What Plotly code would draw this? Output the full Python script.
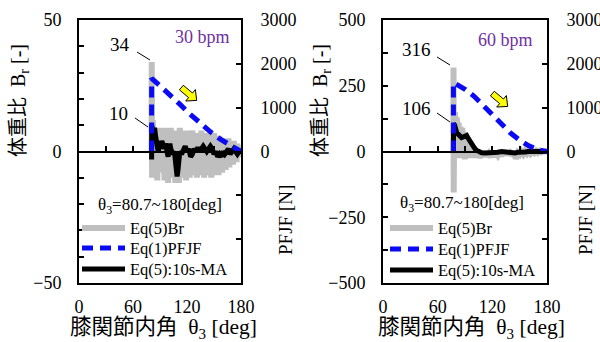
import math
import plotly.graph_objects as go

W, H = 600, 342

# ---------------- data ----------------
# Left panel: 30 bpm
br30_deg = [80.7, 80.8, 81.2, 82, 83, 84, 85, 86, 87, 88, 89, 90, 91, 92, 93, 94, 95, 96, 97, 98, 99,
            100, 101, 102, 103, 104, 105, 106, 107, 108, 109, 110, 111, 112, 113, 114, 115, 116, 117, 118, 119,
            120, 121, 122, 123, 124, 125, 126, 127, 128, 129, 130, 131, 132, 133, 134, 135, 136, 137, 138, 139,
            140, 141, 142, 143, 144, 145, 146, 147, 148, 149, 150, 151, 152, 153, 154, 155, 156, 157, 158, 159,
            160, 161, 162, 163, 164, 165, 166, 167, 168, 169, 170, 171, 172, 173, 174, 175, 176, 177, 178, 179, 180]
br30 = [0, 34, -10, 12, -9, 9, -5, 8, -11, 9, -4, 8, -8, 9, -6, 8, -11, 7, -3, 9, -12,
        8, -5, 9, -10, 6, -4, 8, -12, 7, -6, 8, -12, 9, -5, 8, -10, 7, -4, 8, -11,
        8, -6, 7, -10, 7, -3, 8, -9, 6, -5, 7, -10, 7, -4, 6, -9, 8, -5, 7, -10,
        6, -4, 7, -9, 6, -5, 7, -10, 5, -4, 7, -9, 6, -3, 5, -9, 6, -5, 5, -8,
        4, -3, 5, -7, 4, -3, 5, -6, 4, -3, 3, -5, 4, -2, 3, -4, 3, -2, 2, -2, 0]

ma30_deg = [80.7, 80.8, 82, 83, 84, 85, 86, 87, 88, 89, 90, 91, 92, 93, 94, 96, 98, 99, 100, 101, 102,
            104, 106, 107, 108, 109, 110, 111, 112, 114, 116, 118, 120, 122, 124, 126, 128, 130, 132, 134,
            136, 138, 140, 142, 144, 146, 148, 150, 152, 154, 156, 158, 160, 162, 164, 166, 168, 170, 172,
            174, 176, 178, 180]
ma30 = [-3, 10, 8, 5, 9, 6, 3, 4, 0, 2, 4, 2, 4, 3, 1, 3, 0, -2, 1, 3, 1,
        -1, 0, -4, -8, -9.5, -7, -2, 0, -1, 1, 2, 0, 1, -2, -1, 1, 0, 1.5, 0,
        1, 2, 1, 0, 1, 2, 1, -1, 0, -2, -1, -2, 0, -1, 0, 1, -1, 0, 1,
        0, -1, 0, 0]

pfjf30_deg = [80.7, 80.7, 90, 101, 112, 123, 134, 146, 157, 168, 176, 180]
pfjf30 = [0, 1670, 1500, 1300, 1080, 860, 660, 450, 280, 140, 50, 0]

# Right panel: 60 bpm
br60_deg = [77.3, 77.4, 77.6, 78, 79, 80, 81, 82, 83, 84, 85, 86, 87, 88, 89, 90, 91, 92, 93, 94, 95,
            96, 97, 98, 99, 100, 101, 102, 103, 104, 105, 106, 108, 110, 112, 114, 116, 118, 120, 122,
            124, 126, 128, 130, 132, 134, 136, 138, 140, 142, 144, 146, 148, 150, 152, 154, 156, 158,
            160, 162, 164, 166, 168, 170, 172, 174, 176, 178, 180]
br60 = [0, 319, -156, 40, 150, 20, 130, 10, 110, -25, 95, -10, 90, 20, 75, -30, 60, 0, 55, -25, 40,
        -20, 30, -15, 20, -25, 12, -20, 5, -22, 0, -25, -5, -20, 0, -18, -8, -22, -3, -20,
        -5, -15, -2, -18, 0, -12, 2, -14, -4, -10, 0, -28, -5, -12, 0, -10, 2, -8,
        2, -8, 0, -6, 2, -5, 2, -3, 1, -2, 0]

ma60_deg = [77.3, 77.4, 78, 78.6, 79, 80, 81, 82.7, 84.5, 86.3, 88, 90, 91.8, 93.5, 95.5, 97.5, 99.1,
            101, 103, 104.6, 108.3, 112, 115.6, 119, 123, 126, 130.3, 134, 137.6, 141, 144.9, 148,
            152.2, 156, 159.5, 163, 166.8, 170, 174, 180]
ma60 = [0, 106, 70, 100, 95, 80, 70, 65, 55, 53, 55, 57, 61, 50, 38, 28, 19,
        10, 4, 0, -5, -6, -6, -6, -5, -3, 0, -2, -1, -4, -6, -3,
        0, -2, 0, -1, 0, 1, 0, 0]

pfjf60_deg = [77.3, 77.3, 80, 90, 100, 110, 120, 130, 140, 150, 160, 170, 176, 180]
pfjf60 = [0, 1570, 1540, 1420, 1260, 1040, 820, 610, 420, 260, 130, 40, 5, 0]

# axis ticks
x_labels = [0, 60, 120, 180]
x_minor = [30, 60, 90, 120, 150]
br30_labels = [-50, 0, 50]
br30_minor = [-40, -30, -20, -10, 10, 20, 30, 40]
br60_labels = [-500, -250, 0, 250, 500]
br60_minor = [-375, -125, 125, 375]
pf_labels = [0, 1000, 2000, 3000]
pf_minor = [-2000, -1000]

legend_title = "θ<sub>3</sub>=80.7~180[deg]"
names = ["Eq(5)Br", "Eq(1)PFJF", "Eq(5):10s-MA"]

# ---------------- styles ----------------
SERIF = "Liberation Serif"
MIX = "Liberation Serif, Noto Sans CJK JP"
GREY = "#BFBFBF"
BLUE = "#0A0AF5"
DASH = "11px,7px"
tickfont = dict(family=SERIF, size=18, color="black")


def P(x, y):
    return x / W, 1 - y / H


Ydom = [1 - 283 / H, 1 - 20 / H]
XL = [79 / W, 241 / W]
XR = [383 / W, 547 / W]
zero_pos = (Ydom[0] + Ydom[1]) / 2

fig = go.Figure()
styles = [dict(color=GREY, width=6), dict(color=BLUE, width=5, dash=DASH), dict(color="black", width=5)]

for (bx, by, px_, py_, mx, my, xa, ya, ya2, xo) in [
    (br30_deg, br30, pfjf30_deg, pfjf30, ma30_deg, ma30, "x", "y", "y2", "x3"),
    (br60_deg, br60, pfjf60_deg, pfjf60, ma60_deg, ma60, "x2", "y3", "y4", "x4"),
]:
    fig.add_trace(go.Scatter(x=bx, y=by, mode="lines", line=styles[0], name=names[0],
                             xaxis=xa, yaxis=ya, showlegend=False))
    fig.add_trace(go.Scatter(x=px_, y=py_, mode="lines", line=styles[1], name=names[1],
                             xaxis=xa, yaxis=ya2, showlegend=False))
    fig.add_trace(go.Scatter(x=mx, y=my, mode="lines", line=styles[2], name=names[2],
                             xaxis=xa, yaxis=ya, showlegend=False))
    fig.add_trace(go.Scatter(x=[None], y=[None], xaxis=xo, yaxis=ya, showlegend=False,
                             hoverinfo="skip"))

common = dict(showgrid=False, zeroline=False, linecolor="black", linewidth=2, automargin=False,
              tickcolor="black", tickwidth=2, tickfont=tickfont)
minor_in = lambda vals: dict(tickvals=vals, ticks="inside", ticklen=5, tickwidth=2, tickcolor="black",
                             showgrid=False)

layout = dict(
    width=W, height=H, margin=dict(l=0, r=0, t=0, b=0, autoexpand=False),
    plot_bgcolor="white", paper_bgcolor="white", showlegend=False,
)
for i, (dom, ya, ya2, xo, brl, brm, brr) in enumerate([
    (XL, "y", "y2", "x3", br30_labels, br30_minor, [-50, 50]),
    (XR, "y3", "y4", "x4", br60_labels, br60_minor, [-500, 500]),
]):
    xname = "xaxis" if i == 0 else "xaxis2"
    xa = "x" if i == 0 else "x2"
    layout[xname] = dict(domain=dom, anchor=ya, range=[0, 180], tickvals=x_labels, ticks="",
                         showline=True, mirror=True, ticklabelstandoff=6, **common)
    layout["xaxis" + xo[1:]] = dict(overlaying=xa, anchor="free", position=zero_pos, range=[0, 180],
                                    tickvals=x_minor, ticks="inside", ticklen=5, showticklabels=False,
                                    showline=True, **{k: v for k, v in common.items() if k != "tickfont"})
    layout["yaxis" + ya[1:]] = dict(domain=Ydom, anchor=xa, range=brr, tickvals=brl, minor=minor_in(brm),
                                   ticks="inside", ticklen=5, showline=True, ticklabelstandoff=12, **common)
    layout["yaxis" + ya2[1:]] = dict(overlaying=ya, side="right", anchor=xa, range=[-3000, 3000],
                                    tickvals=pf_labels, minor=minor_in(pf_minor),
                                    ticks="inside", ticklen=5, showline=True, ticklabelstandoff=14, **common)
fig.update_layout(**layout)

ann = []
shapes = []


def text(x, y, t, size=18, angle=0, color="black", xanchor="center", family=SERIF):
    px, py = P(x, y)
    ann.append(dict(x=px, y=py, xref="paper", yref="paper", text=t, showarrow=False, textangle=angle,
                    xanchor=xanchor, yanchor="middle", font=dict(family=family, size=size, color=color)))


def seg(x0, y0, x1, y1, line):
    a, b = P(x0, y0)
    c, d = P(x1, y1)
    shapes.append(dict(type="line", xref="paper", yref="paper", x0=a, y0=b, x1=c, y1=d, line=line))


def arrow(cx, cy, ang=40, s=1.0):
    pts = [(-10, -3), (2, -3), (2, -7.5), (10, 0), (2, 7.5), (2, 3), (-10, 3)]
    ca, sa = math.cos(math.radians(ang)), math.sin(math.radians(ang))
    path = ""
    for k, (u, v) in enumerate(pts):
        x = cx + s * (u * ca - v * sa)
        y = cy + s * (u * sa + v * ca)
        px, py = P(x, y)
        path += ("M" if k == 0 else "L") + f"{px:.5f},{py:.5f}"
    shapes.append(dict(type="path", xref="paper", yref="paper", path=path + "Z",
                       fillcolor="#FFFF00", line=dict(color="black", width=1)))


# panel decorations
for off, t_bpm, bpm_xy, peak_lbl, ma_lbl, pk_line, ma_line, arr, ytitle_x, pf_x, xt_x, leg in [
    (0, "30 bpm", (202, 37), ("34", 120, 45), ("10", 118, 113), (137, 52, 150, 60), (135, 118, 148, 127),
     (189, 94), 20, 285, 163, dict(tx=160, ty=206, ys=[228, 248, 269], lx=(82, 125), txl=128)),
    (300, "60 bpm", (505, 40), ("316", 417, 50), ("106", 417, 108), (437, 57, 450, 65), (437, 113, 450, 122),
     (500, 100), 322, 585, 471, dict(tx=462, ty=204, ys=[228, 249, 270], lx=(390, 433), txl=436)),
]:
    text(bpm_xy[0], bpm_xy[1], t_bpm, size=18, color="#7030A0")
    text(peak_lbl[1], peak_lbl[2], peak_lbl[0], size=19)
    text(ma_lbl[1], ma_lbl[2], ma_lbl[0], size=19)
    seg(*pk_line, line=dict(color="black", width=1))
    seg(*ma_line, line=dict(color="black", width=1))
    arrow(*arr)
    text(ytitle_x, 101, "体重比  B<sub>r</sub> [-]", size=20, angle=-90, family=MIX)
    text(pf_x, 220, "PFJF [N]", size=19, angle=-90)
    text(xt_x, 328, "膝関節内角  θ<sub>3</sub> [deg]", size=21.5, family=MIX)
    # legend
    text(leg["tx"], leg["ty"], legend_title, size=17)
    for yy, nm, st in zip(leg["ys"], names, styles):
        seg(leg["lx"][0], yy, leg["lx"][1], yy, line=st)
        text(leg["txl"], yy, nm, size=16.5, xanchor="left")

fig.update_layout(annotations=ann, shapes=shapes)
fig.write_html("out.html", config={"displayModeBar": False},
               post_script="document.body.style.margin='0px';")
